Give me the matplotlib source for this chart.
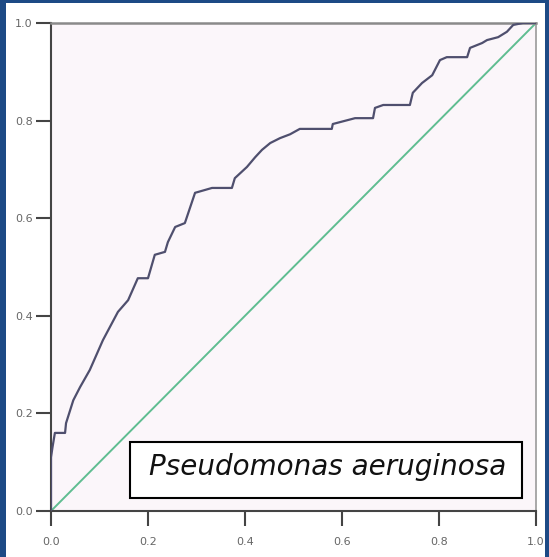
import matplotlib
matplotlib.use("Agg")
from matplotlib import pyplot as plt
from matplotlib.patches import Rectangle

# ROC curve (false positive rate, true positive rate)
fpr = [0.0, 0.0, 0.003, 0.008, 0.029, 0.031, 0.046, 0.060, 0.080, 0.107,
       0.138, 0.159, 0.179, 0.200, 0.214, 0.235, 0.241, 0.256, 0.276, 0.297,
       0.332, 0.373, 0.379, 0.404, 0.421, 0.435, 0.452, 0.472, 0.493, 0.513,
       0.579, 0.581, 0.627, 0.664, 0.668, 0.685, 0.740, 0.746, 0.765, 0.786,
       0.802, 0.816, 0.858, 0.864, 0.889, 0.899, 0.922, 0.940, 0.953, 0.973,
       1.0]
tpr = [0.0, 0.11, 0.13, 0.16, 0.16, 0.18, 0.227, 0.254, 0.289, 0.350,
       0.408, 0.432, 0.477, 0.477, 0.525, 0.531, 0.551, 0.582, 0.590, 0.652,
       0.662, 0.662, 0.682, 0.705, 0.725, 0.740, 0.754, 0.764, 0.772, 0.783,
       0.783, 0.793, 0.805, 0.805, 0.826, 0.832, 0.832, 0.857, 0.877, 0.893,
       0.924, 0.930, 0.930, 0.949, 0.959, 0.965, 0.971, 0.982, 0.996, 1.0,
       1.0]
ticks = [0.0, 0.2, 0.4, 0.6, 0.8, 1.0]
tick_labels = ['0.0', '0.2', '0.4', '0.6', '0.8', '1.0']
label = 'Pseudomonas aeruginosa'

fig = plt.figure(figsize=(5.49, 5.57), dpi=100)
fig.patch.set_facecolor('#1d4a85')
# white panel inside the blue frame
fig.patches.append(Rectangle((6/549, 0), 539/549, 554/557, transform=fig.transFigure,
                             facecolor='white', edgecolor='none', zorder=-1))

ax = fig.add_axes([51/549, 46/557, 485/549, 488/557])
ax.set_zorder(2)
ax.set_facecolor('#fbf6fa')

ax.plot([0, 1], [0, 1], color='#5fbd91', lw=1.4, zorder=2)
ax.plot(fpr, tpr, color='#4f4f6e', lw=1.6, zorder=3)

ax.set_xlim(0, 1)
ax.set_ylim(0, 1)
ax.set_xticks(ticks)
ax.set_xticklabels(tick_labels)
ax.set_yticks(ticks)
ax.set_yticklabels(tick_labels)
ax.tick_params(axis='both', direction='out', length=11, width=1.5, color='#444444',
               labelsize=8, labelcolor='#666666')
ax.tick_params(axis='x', pad=8)
ax.tick_params(axis='y', pad=2)

for s in ['left', 'bottom']:
    ax.spines[s].set_color('#444444')
    ax.spines[s].set_linewidth(1.5)
ax.spines['top'].set_color('#8a8a8a')
ax.spines['top'].set_linewidth(1.8)
ax.spines['right'].set_color('#9a9a9a')
ax.spines['right'].set_linewidth(1.2)

# label box
ax.add_patch(Rectangle((0.162, 0.027), 0.81, 0.114, transform=ax.transAxes,
                       facecolor='white', edgecolor='black', lw=1.5, zorder=4))
ax.text(0.570, 0.090, label, transform=ax.transAxes, ha='center', va='center',
        fontsize=20, style='italic', color='#111111', zorder=5)

fig.savefig('out.png', dpi=100, facecolor=fig.get_facecolor())
